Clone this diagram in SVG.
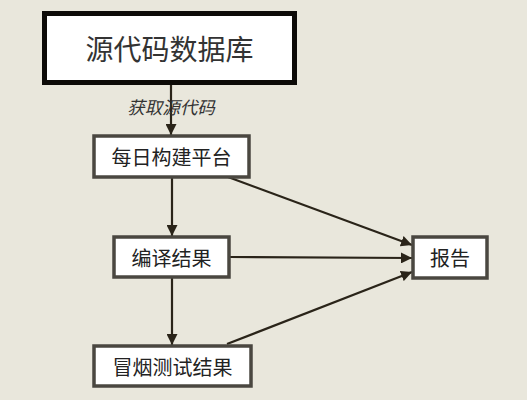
<svg xmlns="http://www.w3.org/2000/svg" width="527" height="400" viewBox="0 0 527 400">
<style>
.box{fill:#ffffff;stroke:#4a4740;stroke-width:3.5}
.t{font-family:"Noto Sans CJK SC","Liberation Sans",sans-serif;fill:#222;text-anchor:middle;dominant-baseline:central}
.c{stroke:#2a2419;stroke-width:2.2;fill:none;marker-end:url(#ah)}
</style>
<defs>
<marker id="ah" viewBox="0 0 10 10" refX="10" refY="5" markerWidth="5" markerHeight="5" markerUnits="strokeWidth" orient="auto">
<path d="M0,0 L10,5 L0,10 z" fill="#2a2419"/>
</marker>
</defs>
<rect width="527" height="400" fill="#e9e7dc"/>
<g id="connectors">
<line class="c" x1="171" y1="85" x2="171" y2="135"/>
<line class="c" x1="172" y1="177" x2="172" y2="236"/>
<line class="c" x1="172" y1="278" x2="172" y2="345"/>
<line class="c" x1="228" y1="177" x2="412" y2="245"/>
<line class="c" x1="230" y1="257" x2="412" y2="258"/>
<line class="c" x1="227" y1="344" x2="412" y2="272"/>
<text x="171" y="106" class="t" style="font-size:17.5px;font-style:italic;fill:#333">获取源代码</text>
</g>
<g id="n1">
<rect x="44.5" y="13.5" width="250" height="69" fill="#fff" stroke="#0d0b08" stroke-width="5"/>
<text x="169.5" y="48" class="t" style="font-size:28px;fill:#333">源代码数据库</text>
</g>
<g id="n2">
<rect class="box" x="94" y="136" width="155" height="41"/>
<text x="171.5" y="156.5" class="t" style="font-size:20px">每日构建平台</text>
</g>
<g id="n3">
<rect class="box" x="114" y="237" width="115" height="40"/>
<text x="171.5" y="257" class="t" style="font-size:20px">编译结果</text>
</g>
<g id="n4">
<rect class="box" x="413" y="237" width="74" height="41"/>
<text x="450" y="257.5" class="t" style="font-size:20px">报告</text>
</g>
<g id="n5">
<rect class="box" x="94" y="346" width="157" height="40"/>
<text x="172.5" y="366" class="t" style="font-size:20px">冒烟测试结果</text>
</g>
</svg>
